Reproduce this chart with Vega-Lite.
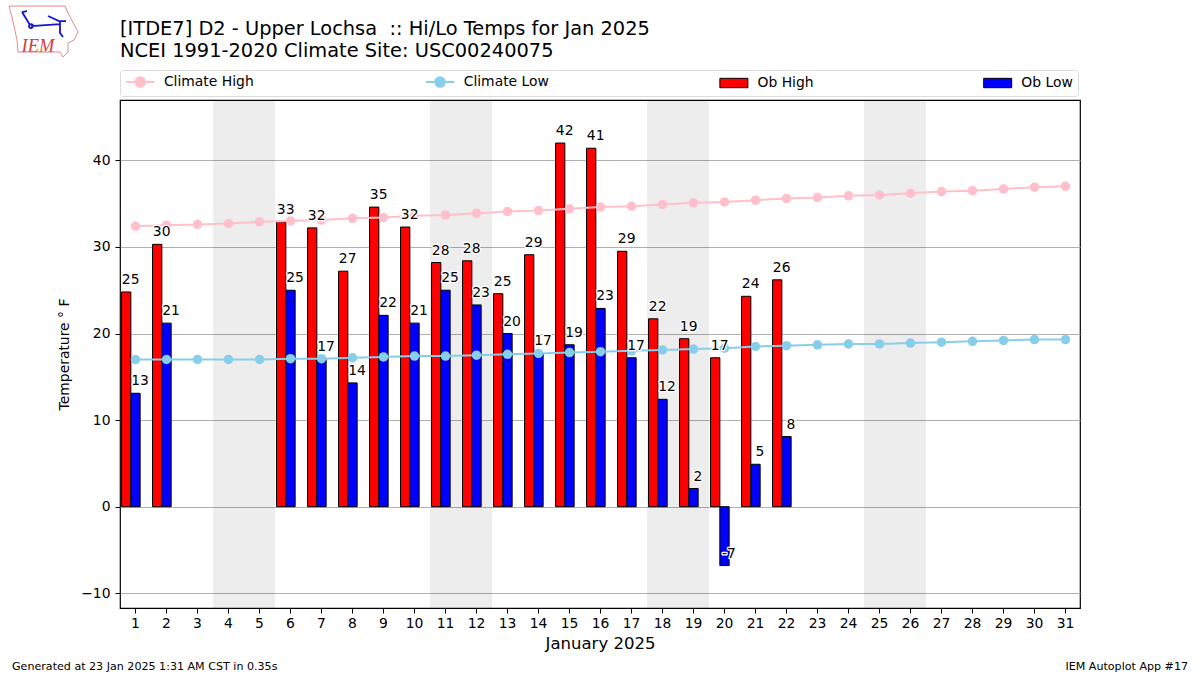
{
"$schema":"https://vega.github.io/schema/vega-lite/v6.json",
"width":960,"height":508,
"autosize":{"type":"none"},
"padding":{"left":120,"top":100,"right":120,"bottom":67},
"background":"white",
"config":{"font":"DejaVu Sans","view":{"stroke":"#000000","strokeWidth":1.2}},
"title":{"text":["[ITDE7] D2 - Upper Lochsa \u00a0:: Hi/Lo Temps for Jan 2025","NCEI 1991-2020 Climate Site: USC00240075"],"anchor":"start","frame":"group","fontSize":19.4,"fontWeight":"normal","lineHeight":21.5,"offset":-57,"color":"#000000"},
"datasets":{
"weekend":[{"day":4},{"day":5},{"day":11},{"day":12},{"day":18},{"day":19},{"day":25},{"day":26}],
"obs":[
{"day":1,"series":"Ob High","value":24.8,"label":"25"},{"day":2,"series":"Ob High","value":30.3,"label":"30"},{"day":6,"series":"Ob High","value":32.9,"label":"33"},{"day":7,"series":"Ob High","value":32.2,"label":"32"},{"day":8,"series":"Ob High","value":27.2,"label":"27"},{"day":9,"series":"Ob High","value":34.6,"label":"35"},{"day":10,"series":"Ob High","value":32.3,"label":"32"},{"day":11,"series":"Ob High","value":28.2,"label":"28"},{"day":12,"series":"Ob High","value":28.4,"label":"28"},{"day":13,"series":"Ob High","value":24.6,"label":"25"},{"day":14,"series":"Ob High","value":29.1,"label":"29"},{"day":15,"series":"Ob High","value":42.0,"label":"42"},{"day":16,"series":"Ob High","value":41.4,"label":"41"},{"day":17,"series":"Ob High","value":29.5,"label":"29"},{"day":18,"series":"Ob High","value":21.7,"label":"22"},{"day":19,"series":"Ob High","value":19.4,"label":"19"},{"day":20,"series":"Ob High","value":17.2,"label":"17"},{"day":21,"series":"Ob High","value":24.3,"label":"24"},{"day":22,"series":"Ob High","value":26.2,"label":"26"},
{"day":1,"series":"Ob Low","value":13.1,"label":"13"},{"day":2,"series":"Ob Low","value":21.2,"label":"21"},{"day":6,"series":"Ob Low","value":25.0,"label":"25"},{"day":7,"series":"Ob Low","value":17.0,"label":"17"},{"day":8,"series":"Ob Low","value":14.3,"label":"14"},{"day":9,"series":"Ob Low","value":22.1,"label":"22"},{"day":10,"series":"Ob Low","value":21.2,"label":"21"},{"day":11,"series":"Ob Low","value":25.0,"label":"25"},{"day":12,"series":"Ob Low","value":23.3,"label":"23"},{"day":13,"series":"Ob Low","value":20.0,"label":"20"},{"day":14,"series":"Ob Low","value":17.7,"label":"17"},{"day":15,"series":"Ob Low","value":18.7,"label":"19"},{"day":16,"series":"Ob Low","value":22.9,"label":"23"},{"day":17,"series":"Ob Low","value":17.2,"label":"17"},{"day":18,"series":"Ob Low","value":12.4,"label":"12"},{"day":19,"series":"Ob Low","value":2.1,"label":"2"},{"day":20,"series":"Ob Low","value":-6.8,"label":"-7"},{"day":21,"series":"Ob Low","value":4.9,"label":"5"},{"day":22,"series":"Ob Low","value":8.1,"label":"8"}
],
"climate":[
{"day":1,"series":"Climate High","value":32.4},{"day":2,"series":"Climate High","value":32.5},{"day":3,"series":"Climate High","value":32.6},{"day":4,"series":"Climate High","value":32.7},{"day":5,"series":"Climate High","value":32.9},{"day":6,"series":"Climate High","value":33.0},{"day":7,"series":"Climate High","value":33.1},{"day":8,"series":"Climate High","value":33.3},{"day":9,"series":"Climate High","value":33.4},{"day":10,"series":"Climate High","value":33.6},{"day":11,"series":"Climate High","value":33.7},{"day":12,"series":"Climate High","value":33.9},{"day":13,"series":"Climate High","value":34.1},{"day":14,"series":"Climate High","value":34.2},{"day":15,"series":"Climate High","value":34.4},{"day":16,"series":"Climate High","value":34.6},{"day":17,"series":"Climate High","value":34.7},{"day":18,"series":"Climate High","value":34.9},{"day":19,"series":"Climate High","value":35.1},{"day":20,"series":"Climate High","value":35.2},{"day":21,"series":"Climate High","value":35.4},{"day":22,"series":"Climate High","value":35.6},{"day":23,"series":"Climate High","value":35.7},{"day":24,"series":"Climate High","value":35.9},{"day":25,"series":"Climate High","value":36.0},{"day":26,"series":"Climate High","value":36.2},{"day":27,"series":"Climate High","value":36.4},{"day":28,"series":"Climate High","value":36.5},{"day":29,"series":"Climate High","value":36.7},{"day":30,"series":"Climate High","value":36.9},{"day":31,"series":"Climate High","value":37.0},
{"day":1,"series":"Climate Low","value":17.0},{"day":2,"series":"Climate Low","value":17.0},{"day":3,"series":"Climate Low","value":17.0},{"day":4,"series":"Climate Low","value":17.0},{"day":5,"series":"Climate Low","value":17.0},{"day":6,"series":"Climate Low","value":17.1},{"day":7,"series":"Climate Low","value":17.1},{"day":8,"series":"Climate Low","value":17.2},{"day":9,"series":"Climate Low","value":17.3},{"day":10,"series":"Climate Low","value":17.4},{"day":11,"series":"Climate Low","value":17.4},{"day":12,"series":"Climate Low","value":17.5},{"day":13,"series":"Climate Low","value":17.6},{"day":14,"series":"Climate Low","value":17.7},{"day":15,"series":"Climate Low","value":17.8},{"day":16,"series":"Climate Low","value":17.9},{"day":17,"series":"Climate Low","value":18.0},{"day":18,"series":"Climate Low","value":18.1},{"day":19,"series":"Climate Low","value":18.2},{"day":20,"series":"Climate Low","value":18.3},{"day":21,"series":"Climate Low","value":18.5},{"day":22,"series":"Climate Low","value":18.6},{"day":23,"series":"Climate Low","value":18.7},{"day":24,"series":"Climate Low","value":18.8},{"day":25,"series":"Climate Low","value":18.8},{"day":26,"series":"Climate Low","value":18.9},{"day":27,"series":"Climate Low","value":19.0},{"day":28,"series":"Climate Low","value":19.1},{"day":29,"series":"Climate Low","value":19.2},{"day":30,"series":"Climate Low","value":19.3},{"day":31,"series":"Climate Low","value":19.3}
]
},
"encoding":{
"x":{"field":"day","type":"ordinal","title":"January 2025",
 "scale":{"type":"band","domain":[1,2,3,4,5,6,7,8,9,10,11,12,13,14,15,16,17,18,19,20,21,22,23,24,25,26,27,28,29,30,31],"paddingInner":0.1,"paddingOuter":0.0339,"align":0.74},
 "axis":{"labelAngle":0,"labelFontSize":13.9,"labelColor":"#000000","tickColor":"#000000","tickSize":5,"labelPadding":3,"domain":false,"grid":false,"titleFontSize":16.5,"titleFontWeight":"normal","titleColor":"#000000","titlePadding":6}}
},
"layer":[
{"data":{"name":"weekend"},"mark":{"type":"bar","width":{"band":1.1111},"color":"#000000","opacity":0.07,"stroke":null}},
{"data":{"name":"obs"},"mark":{"type":"bar","stroke":"#000000","strokeWidth":1},
 "encoding":{
 "xOffset":{"field":"series","type":"nominal","scale":{"domain":["Ob High","Ob Low","pad"],"paddingInner":0,"paddingOuter":0}},
 "y":{"field":"value","type":"quantitative","title":"Temperature ° F",
   "scale":{"domain":[-11.7,46.97],"nice":false,"zero":false},
   "axis":{"values":[-10,0,10,20,30,40],"format":"d","labelExpr":"replace(datum.label,'-','−')","labelFontSize":13.9,"labelColor":"#000000","tickColor":"#000000","tickSize":5,"labelPadding":5,"domain":false,"grid":true,"gridColor":"#b0b0b0","gridWidth":1,"titleFontSize":13.9,"titleFontWeight":"normal","titleColor":"#000000","titlePadding":9}},
 "fill":{"field":"series","type":"nominal","scale":{"domain":["Climate High","Climate Low","Ob High","Ob Low"],"range":["#ffc0cb","#87ceeb","#ff0000","#0000ff"]},
   "legend":{"title":null,"orient":"none","legendX":0,"legendY":-30,"columns":4,"columnPadding":167.8,"symbolSize":196,"labelFontSize":13.9,"labelColor":"#000000","labelOffset":25,"padding":5,"strokeColor":"#dcdcdc","fillColor":"#ffffff","cornerRadius":3,"symbolStrokeWidth":2,"symbolOpacity":1,
    "encoding":{"symbols":{
      "shape":{"value":{"signal":"(datum.value==='Ob High'||datum.value==='Ob Low') ? 'M-0.81,-0.67H3.19V0.67H-0.81Z' : 'M-0.81,0H0.51A0.68,0.68 0 1 1 1.87,0A0.68,0.68 0 1 1 0.51,0M1.87,0H3.19'"}},
      "stroke":{"value":{"signal":"(datum.value==='Ob High'||datum.value==='Ob Low') ? '#000000' : scale('fill',datum.value)"}},
      "strokeWidth":{"value":{"signal":"(datum.value==='Ob High'||datum.value==='Ob Low') ? 1 : 2"}}
    }}}}
 }},
{"data":{"name":"climate"},"mark":{"type":"line","strokeWidth":2},
 "encoding":{"y":{"field":"value","type":"quantitative"},"stroke":{"field":"series","type":"nominal","legend":null,"scale":{"domain":["Climate High","Climate Low"],"range":["#ffc0cb","#87ceeb"]}}}},
{"data":{"name":"climate"},"mark":{"type":"point","filled":true,"size":90,"opacity":1,"stroke":null},
 "encoding":{"y":{"field":"value","type":"quantitative"},"fill":{"field":"series","type":"nominal"}}},
{"data":{"name":"obs"},"mark":{"type":"text","align":"center","baseline":"alphabetic","dx":4.5,"dy":-8,"fontSize":13.9,"stroke":"#ffffff","strokeWidth":2.5,"strokeJoin":"round"},
 "encoding":{"xOffset":{"field":"series","type":"nominal"},"y":{"field":"value","type":"quantitative"},"text":{"field":"label","type":"nominal"}}},
{"data":{"name":"obs"},"mark":{"type":"text","align":"center","baseline":"alphabetic","dx":4.5,"dy":-8,"fontSize":13.9,"color":"#000000"},
 "encoding":{"xOffset":{"field":"series","type":"nominal"},"y":{"field":"value","type":"quantitative"},"text":{"field":"label","type":"nominal"}}},
{"data":{"values":[{"day":1,"value":40,"note":"Generated at 23 Jan 2025 1:31 AM CST in 0.35s"}]},"mark":{"type":"text","clip":false,"align":"left","baseline":"alphabetic","dx":-123.5,"dy":510,"fontSize":11.1,"color":"#000000"},
 "encoding":{"y":{"field":"value","type":"quantitative"},"text":{"field":"note"}}},
{"data":{"values":[{"day":31,"value":40,"note":"IEM Autoplot App #17"}]},"mark":{"type":"text","clip":false,"align":"right","baseline":"alphabetic","dx":122.5,"dy":510,"fontSize":11.1,"color":"#000000"},
 "encoding":{"y":{"field":"value","type":"quantitative"},"text":{"field":"note"}}},
{"data":{"values":[{"day":1,"value":40,"note":"IEM"}]},"mark":{"type":"text","clip":false,"align":"center","baseline":"alphabetic","font":"Liberation Serif","fontStyle":"italic","fontSize":18.5,"dx":-97.5,"dy":-108,"color":"#d83a3a"},
 "encoding":{"y":{"field":"value","type":"quantitative"},"text":{"field":"note"}}},
{"data":{"values":[{"day":1,"value":40}]},"mark":{"type":"point","clip":false,"filled":false,"opacity":1,"size":4,"xOffset":-91.5,"yOffset":-128.3,"strokeWidth":1,"color":"#e58a8a","shape":"M-35,-26L21,-26L24,-19L34,0L30,8L24,11L24,20L19,25L16,20L-26,20L-27,8L-32,-15Z"},
 "encoding":{"y":{"field":"value","type":"quantitative"}}},
{"data":{"values":[{"day":1,"value":40}]},"mark":{"type":"point","clip":false,"filled":false,"opacity":1,"size":4,"xOffset":-91.5,"yOffset":-128.3,"strokeWidth":1.8,"color":"#1414d2","shape":"M-22,-20L-14,-7M-22,-20L-17,-21M-15,-6A2,2 0 1 1 -11,-6A2,2 0 1 1 -15,-6M-13,-6L16,-8M4,-16L15,-11L22,-11M16,-11L16,1L19,5"},
 "encoding":{"y":{"field":"value","type":"quantitative"}}}
]
}
